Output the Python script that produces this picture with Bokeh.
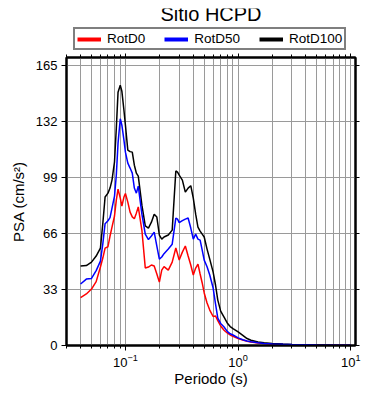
from bokeh.plotting import figure
from bokeh.layouts import column
from bokeh.models import (Range1d, LogAxis, LinearAxis, FixedTicker, Legend, LegendItem,
                          CustomJSTickFormatter, Label)
from bokeh.embed import file_html
from bokeh.resources import INLINE

periods = [0.04, 0.045, 0.05, 0.055, 0.06, 0.063, 0.066, 0.07, 0.073, 0.076,
           0.08, 0.083, 0.086, 0.09, 0.093, 0.097, 0.1, 0.105, 0.11, 0.115,
           0.12, 0.125, 0.13, 0.14, 0.15, 0.16, 0.17, 0.18, 0.19, 0.2,
           0.21, 0.22, 0.24, 0.26, 0.28, 0.29, 0.3, 0.32, 0.34, 0.36,
           0.38, 0.4, 0.42, 0.44, 0.46, 0.48, 0.5, 0.53, 0.56, 0.6,
           0.63, 0.66, 0.7, 0.75, 0.8, 0.85, 0.9, 1.0, 1.1, 1.2,
           1.3, 1.5, 1.7, 2.0, 2.5, 3.0, 4.0, 5.0, 6.0, 7.5, 10.0]

rotd100 = [46.9, 47.2, 49.2, 52.8, 57.5, 72, 87.6, 89.9, 92.9, 97.6,
           108.4, 128.2, 149.5, 153.6, 150, 138.8, 130, 115.3, 114.4, 114.1,
           106.4, 101.7, 99.9, 82.8, 70.6, 69.3, 72.8, 77.5, 75.8, 65.2,
           62.8, 64, 65.2, 68.1, 103, 102.3, 100.5, 97.6, 90.5, 92.9,
           94.3, 87, 77.5, 69.9, 67.5, 65.7, 64, 56.9, 51, 43.3,
           35.7, 26.8, 20.3, 16.8, 13.3, 11.2, 10, 8, 6, 4.1,
           3.1, 2.1, 1.6, 1.25, 0.9, 0.65, 0.45, 0.35, 0.28, 0.2, 0.13]

rotd50 = [36.3, 39.2, 39.6, 44.2, 49.8, 60, 71.9, 73.6, 75.5, 81.1,
          88.1, 100.5, 119.4, 133.8, 130, 121.2, 114.1, 107.6, 104.7, 101.7,
          92.9, 89.9, 94, 77.5, 65.7, 62.5, 64.6, 66.9, 58.7, 51,
          52.2, 54.2, 56.9, 59.8, 75.2, 74.6, 72.5, 73.7, 74.6, 75.2,
          69.3, 62.8, 65.7, 62.8, 62.2, 56.3, 50.4, 46.5, 41.6, 33.9,
          24.5, 16.2, 13, 10.9, 8.3, 6.9, 6.2, 4.5, 3.4, 2.7,
          2.2, 1.6, 1.25, 0.95, 0.7, 0.52, 0.38, 0.28, 0.22, 0.16, 0.1]

rotd0 = [28.3, 30.4, 33.3, 37.7, 46.3, 51.6, 57.5, 58.3, 64.6, 69.9,
         76.4, 85.8, 92.3, 87, 82.3, 87.6, 89.7, 84.6, 78.7, 75.9,
         74.8, 78.1, 81.8, 68, 45.7, 46.3, 47.5, 46.9, 42.2, 37.4,
         44.5, 46.5, 44.5, 49.2, 57.5, 54, 50.4, 55.1, 58.7, 52.8,
         47.5, 41.6, 45.7, 48, 42.2, 36.9, 31, 25.1, 20.9, 17.1,
         17.4, 14.7, 11.5, 9, 7.4, 6.2, 5.4, 4.1, 3.2, 2.5,
         2.1, 1.5, 1.2, 0.9, 0.6, 0.45, 0.32, 0.24, 0.19, 0.14, 0.09]

series_names = ["RotD0", "RotD50", "RotD100"]
series_colors = ["#ff0000", "#0000ff", "#000000"]
y_ticks = [0, 33, 66, 99, 132, 165]
x_major = [0.1, 1, 10]
x_minor = [m * d for d in (0.01, 0.1, 1) for m in range(2, 10)]
title_text = "Sitio HCPD"

FONT = "Liberation Sans"
GRID = "#9a9a9a"
NAN = float("nan")

# ---- header: title + legend ----
head = figure(frame_width=289, frame_height=42, x_range=Range1d(0, 1), y_range=Range1d(0, 1),
              output_backend="svg", toolbar_location=None,
              min_border_left=66, min_border_right=10, min_border_top=8, min_border_bottom=0,
              x_axis_location=None, y_axis_location=None)
head.grid.visible = False
head.outline_line_color = None
head.add_layout(Label(x=0.5, y=0.875, text=title_text, text_align="center",
                      text_baseline="middle", text_font=FONT, text_font_size="20px",
                      text_color="#000000"))

items = []
for name, col in zip(series_names, series_colors):
    r = head.line([NAN], [NAN], line_color=col, line_width=4)
    items.append(LegendItem(label=name, renderers=[r]))

legend = Legend(items=items, orientation="horizontal", location=(7, 0),
                label_text_font=FONT, label_text_font_size="13.5px",
                label_text_color="#000000",
                glyph_width=24, glyph_height=12, label_height=12,
                label_standoff=6, spacing=19, padding=2, margin=0,
                border_line_color="#000000", border_line_width=2,
                background_fill_color="#ffffff", background_fill_alpha=1)
head.add_layout(legend)

# ---- main plot ----
p = figure(x_axis_type="log", frame_width=289, frame_height=288,
           x_range=Range1d(0.03, 11), y_range=Range1d(0, 169.95),
           output_backend="svg", toolbar_location=None,
           min_border_left=66, min_border_right=10, min_border_top=7,
           min_border_bottom=43)

x_ticker = FixedTicker(ticks=x_major, minor_ticks=x_minor)
y_ticker = FixedTicker(ticks=y_ticks, minor_ticks=[])

for ax in (p.xaxis[0], p.yaxis[0]):
    ax.axis_line_width = 2
    ax.major_tick_in = 0
    ax.major_tick_out = 5
    ax.minor_tick_in = 0
    ax.minor_tick_out = 3
    ax.major_tick_line_color = "#000000"
    ax.minor_tick_line_color = "#000000"
    ax.major_label_text_font = FONT
    ax.major_label_text_font_size = "13px"
    ax.major_label_text_color = "#000000"
    ax.axis_label_text_font = FONT
    ax.axis_label_text_font_size = "15px"
    ax.axis_label_text_font_style = "normal"
    ax.axis_label_text_color = "#000000"

p.xaxis.ticker = x_ticker
p.yaxis.ticker = y_ticker
p.xaxis.axis_label = "Periodo (s)"
p.yaxis.axis_label = "PSA (cm/s²)"
p.xaxis.major_label_standoff = 3
p.yaxis.major_label_standoff = 4
p.yaxis.axis_label_standoff = 6
p.xaxis.axis_label_standoff = 0

blank = CustomJSTickFormatter(code="return ''")
top = LogAxis(ticker=x_ticker, formatter=blank, major_label_text_font_size="1px",
              axis_line_width=2, major_tick_in=0, major_tick_out=4,
              minor_tick_in=0, minor_tick_out=3, major_label_standoff=0)
right = LinearAxis(ticker=y_ticker, formatter=blank, major_label_text_font_size="1px",
                   axis_line_width=2, major_tick_in=0, major_tick_out=4,
                   minor_tick_in=0, minor_tick_out=0, major_label_standoff=0)
p.add_layout(top, "above")
p.add_layout(right, "right")

p.xgrid.ticker = x_ticker
p.ygrid.ticker = y_ticker
p.xgrid.grid_line_color = GRID
p.xgrid.minor_grid_line_color = GRID
p.ygrid.grid_line_color = GRID
p.xgrid.grid_line_width = 1
p.ygrid.grid_line_width = 1
p.outline_line_color = "#000000"
p.outline_line_width = 2

data = {"RotD0": rotd0, "RotD50": rotd50, "RotD100": rotd100}
for name in ["RotD0", "RotD100", "RotD50"]:
    col = series_colors[series_names.index(name)]
    p.line(periods, data[name], line_color=col, line_width=1.5)

layout = column(head, p, spacing=0)
open("out.html", "w").write(file_html(layout, INLINE))
